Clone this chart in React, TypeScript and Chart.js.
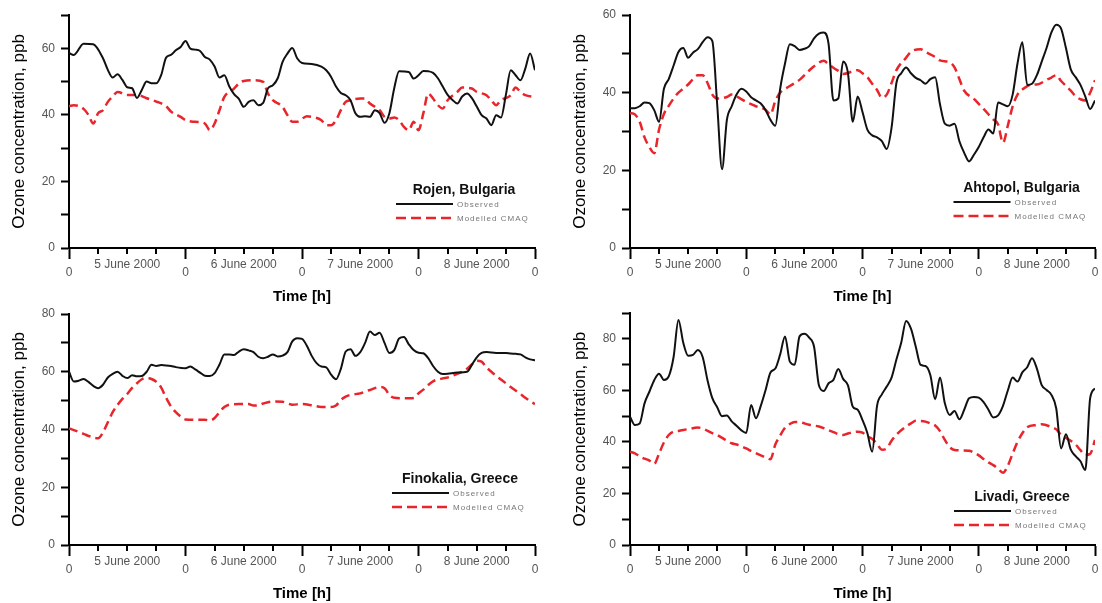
import React, { useEffect, useRef } from 'react';
import { Chart, registerables } from 'chart.js';

Chart.register(...registerables);
Chart.defaults.font.family = "'Liberation Sans', Arial, sans-serif";

// ---------- data ----------
const DAY_LABELS = ['5 June 2000', '6 June 2000', '7 June 2000', '8 June 2000'];
const SERIES_NAMES = ['Observed', 'Modelled CMAQ'];
const STATIONS = ['Rojen, Bulgaria', 'Ahtopol, Bulgaria', 'Finokalia, Greece', 'Livadi, Greece'];
const Y_MAX = [70, 60, 80, 90];

// [hour, ppb]
const rojenObserved: [number, number][] = [
  [0,58.6],[1,58],[3,61.4],[5,61.2],[7,57],[8,53.5],[9,51.2],[10,52.2],[11,50.5],[12,48.3],[13,48],[14,45.1],[15,47.5],[16,50],[17,49.5],[18,49.5],[19,52],[20,57.2],[21,58],[22,59.4],[23,60.4],[24,62.2],[25,59.9],[26,59.6],[27,59.2],[28,57.4],[29,56.6],[30,54.5],[31,51.2],[32,51.9],[33,48.6],[34,46.2],[35,44.8],[36,42.4],[37,43.9],[38,44.4],[39,42.9],[40,43.6],[41,48],[42,48.9],[43,51],[44,55.9],[45,58.4],[46,60.1],[47,57],[48,55.6],[50,55.3],[52,54.5],[53,53.4],[54,51.4],[55,48.5],[56,46.6],[57,45.9],[58,44.4],[59,40.5],[60,39.4],[61,39.6],[62,39.4],[63,41.4],[64,40.5],[65,37.6],[66,40.5],[67,48],[68,53.1],[70,52.9],[71,50.9],[72,51.9],[73,53.2],[74,53.1],[75,52.6],[76,51],[77,48.5],[78,46],[79,44.5],[80,43.4],[81,45.5],[82,46.4],[83,45],[84,42.5],[85,39.9],[86,38.9],[87,36.9],[88,39.9],[89,39.2],[90,46],[91,53.4],[92,51.9],[93,50.4],[94,53.9],[95,58.4],[96,53.4],
];
const rojenModelled: [number, number][] = [
  [0,42.6],[1,42.9],[3,41.8],[4,40],[5,37.4],[6,40.5],[7,41.4],[8,43.9],[9,45.5],[10,46.9],[12,46],[14,46],[16,45],[18,44],[20,42.6],[21,41],[23,39.4],[24,38.4],[26,37.9],[28,37.4],[29,35.4],[30,37.4],[31,41.4],[32,45.4],[34,47.9],[35,49.4],[36,50.2],[38,50.4],[40,49.9],[41,46.4],[42,44.4],[44,42.4],[45,39.9],[46,37.9],[47,37.9],[49,39.6],[50,39.4],[52,38.4],[53,36.9],[54,36.9],[55,38.4],[56,41.4],[57,43.9],[58,44.4],[60,44.9],[61,44.9],[62,43.4],[64,41.4],[65,39.4],[66,38.9],[67,39.2],[68,38.4],[69,36.4],[70,35.4],[71,37.9],[72,35.4],[73,40.5],[74,46.4],[75,44.9],[76,42.9],[77,41.9],[78,44.4],[80,46.9],[81,48.2],[83,47.9],[84,46.9],[86,45.9],[87,44.4],[88,42.9],[89,44.4],[91,45.9],[92,48.2],[93,46.9],[94,45.9],[96,45.4],
];

const ahtopolObserved: [number, number][] = [
  [0,36],[1,36],[2,36.5],[3,37.5],[4,37.3],[5,35.5],[6,32.5],[7,41],[8,43.5],[9,47],[10,50.5],[11,51.5],[12,49],[13,50.3],[14,51.2],[15,53],[16,54.3],[17,53.3],[18,37],[19,20.3],[20,33],[21,36.5],[22,39.5],[23,41],[24,40.3],[25,38.8],[26,38],[27,37.2],[28,35.5],[29,33],[30,31.5],[31,41],[32,47.5],[33,52.5],[34,52],[35,51],[36,51.3],[37,52],[38,54],[39,55.2],[40,55.5],[41,52.5],[42,38],[43,38.5],[44,48],[45,45],[46,32.5],[47,39],[48,35],[49,30.5],[50,29],[51,28.5],[52,27.5],[53,25.5],[54,31],[55,42.5],[56,45],[57,46.5],[58,45],[59,43.8],[60,43.2],[61,42.3],[62,43.5],[63,44],[64,37],[65,32],[66,31.5],[67,32],[68,27.5],[69,24.5],[70,22.3],[71,24],[72,26],[73,28.5],[74,30.5],[75,29.5],[76,37.5],[77,37],[78,36.5],[79,39.5],[80,47.5],[81,53],[82,42],[83,42.3],[84,44.5],[85,48],[86,51.5],[87,55.5],[88,57.5],[89,56.5],[90,51.5],[91,46],[92,44],[93,42],[94,39],[95,35.8],[96,38],
];
const ahtopolModelled: [number, number][] = [
  [0,34.8],[1,34.4],[2,32.5],[3,28.5],[4,26],[5,24.4],[6,30.5],[7,34.5],[8,36.6],[9,38.5],[10,40],[12,42.1],[13,43.5],[14,44.5],[15,44.5],[16,42.5],[17,39.5],[18,38.5],[20,38.9],[21,39.5],[22,39],[24,37.6],[26,36.5],[28,35.6],[29,34.4],[30,37.9],[31,40],[33,41.7],[35,43.3],[37,45.7],[38,46.8],[40,48.2],[41,47.3],[42,46.4],[43,45.6],[44,44.8],[46,45.5],[47,45.8],[48,45],[49,44],[50,42.3],[51,40.7],[52,38.7],[53,39.5],[54,42.5],[55,45.8],[57,49],[58,50.5],[60,51.2],[61,50.5],[63,49.2],[64,48.3],[66,47.8],[67,46.5],[68,43.5],[69,40.5],[71,38.4],[72,37.1],[73,35.8],[75,33.1],[76,31.8],[77,27.1],[78,31.5],[79,36.5],[80,39.5],[81,40.8],[83,42.1],[84,42.1],[86,43.3],[87,43.9],[88,44.5],[89,43],[91,40.5],[92,39.1],[93,38.3],[94,38],[95,40],[96,43.2],
];

const finokaliaObserved: [number, number][] = [
  [0,60],[1,56.6],[2,56.9],[3,57.5],[4,56.5],[5,55.1],[6,54.3],[7,55.5],[8,58],[9,59.3],[10,60],[11,58.6],[12,57.8],[13,58.8],[14,58.4],[15,58.5],[16,60],[17,62.4],[18,62],[19,62.3],[20,62.2],[21,62],[22,61.6],[24,61.2],[25,61.8],[26,60.8],[27,59.7],[28,58.6],[29,58.5],[30,59.5],[31,62.5],[32,66],[33,66],[34,65.8],[35,67],[36,67.8],[37,67.4],[38,66.8],[39,65.2],[40,64.7],[41,65.2],[42,66],[43,65.3],[44,65.6],[45,66.8],[46,70.5],[47,71.6],[48,71.4],[49,69],[50,65.5],[51,63],[52,61.8],[53,61.5],[54,59],[55,57.4],[56,61],[57,67],[58,67.8],[59,65.5],[60,66.8],[61,70],[62,73.9],[63,72.7],[64,73.5],[65,70],[66,66.5],[67,67.5],[68,71.5],[69,72],[70,69.5],[71,67.5],[72,66.6],[73,66.4],[74,64.7],[75,62],[76,60],[77,59.2],[78,59.3],[80,59.7],[82,60],[83,62.4],[84,65],[85,66.5],[86,66.8],[88,66.5],[90,66.5],[91,66.3],[92,66.2],[93,66],[94,65],[95,64.3],[96,64],
];
const finokaliaModelled: [number, number][] = [
  [0,40.4],[1,39.8],[3,38.5],[4,37.8],[5,37.2],[6,37],[7,39],[8,42.5],[9,46],[10,48.5],[11,50.6],[12,52.3],[13,54.4],[14,56],[15,57.4],[16,57.8],[17,57.5],[18,56.5],[19,54.5],[20,51],[21,48],[22,46],[23,44.5],[24,43.5],[26,43.4],[28,43.4],[29,43.1],[30,44],[31,46],[32,47.8],[33,48.6],[35,48.8],[37,48.8],[38,48.3],[39,48.4],[40,49],[42,49.7],[44,49.6],[45,49.1],[46,48.6],[48,48.8],[50,48.4],[52,47.8],[54,47.8],[55,48.3],[56,50.2],[57,51.4],[58,52],[60,52.5],[61,53.1],[62,53.7],[64,54.7],[65,54.3],[66,52],[67,51],[70,50.8],[71,50.9],[72,52.5],[73,53.8],[74,55.4],[75,56.7],[77,57.7],[78,58],[80,59.3],[81,60],[82,61],[83,62.6],[84,63.8],[85,63.5],[86,61.5],[87,60],[88,58.6],[90,56],[91,54.7],[93,52.3],[94,51],[96,48.8],
];

const livadiObserved: [number, number][] = [
  [0,49.8],[1,46.6],[2,47.2],[3,55],[4,59.5],[5,64],[6,66.5],[7,64.1],[8,65.5],[9,73],[10,87.4],[11,78.5],[12,73.5],[13,73.8],[14,75.7],[15,73],[16,64],[17,57],[18,53.5],[19,50],[20,50.3],[21,48],[22,46.3],[23,44.5],[24,43.5],[25,54.4],[26,49.2],[27,54],[28,60.2],[29,67],[30,68.5],[31,74],[32,81],[33,71.2],[34,70],[35,81],[36,82],[37,80.5],[38,77],[39,62],[40,59.8],[41,62.8],[42,64.1],[43,68.3],[44,64.5],[45,62],[46,53.7],[47,52.5],[48,48.5],[49,43.5],[50,36.2],[51,54],[52,58.5],[53,61.5],[54,65],[55,72],[56,78.6],[57,87],[58,84],[59,77],[60,69.9],[61,69.5],[62,66],[63,56.6],[64,65],[65,55],[66,50.5],[67,52],[68,48.8],[69,52.5],[70,57],[71,57.5],[72,57.2],[73,55.5],[74,52.5],[75,49.5],[76,50.3],[77,54],[78,60],[79,65],[80,63.5],[81,67],[82,69],[83,72.5],[84,68.5],[85,62.1],[86,60.2],[87,58.3],[88,53],[89,37.5],[90,43],[91,37],[92,34.5],[93,32.5],[94,29.1],[95,57],[96,60.8],
];
const livadiModelled: [number, number][] = [
  [0,36.2],[1,35.6],[2,34.4],[3,33.5],[4,32.8],[5,31.5],[6,35.5],[7,39.8],[8,42.7],[9,44],[10,44.3],[12,45],[14,45.6],[15,45.2],[17,43.4],[18,42.7],[20,40.5],[21,39.5],[22,39],[24,37.5],[25,36.5],[27,34.8],[28,34],[29,33.3],[30,39],[31,42.5],[32,45.5],[33,47],[34,47.8],[35,47.7],[37,46.7],[39,46],[40,45.4],[42,43.8],[44,42.7],[45,43.3],[47,44],[48,43.6],[49,42.2],[50,41.2],[51,39.2],[52,37],[53,37.5],[54,40.5],[55,42.8],[57,46],[58,47.2],[59,48.2],[61,47.9],[62,47.2],[63,46.4],[64,44.2],[65,40.8],[66,38],[67,36.9],[70,36.6],[71,35.9],[72,34.8],[73,33.4],[74,32.1],[75,31],[76,29.6],[77,28.1],[78,30.8],[79,35.5],[80,40],[81,43.4],[82,45.7],[84,46.6],[85,46.9],[87,45.8],[88,44.9],[89,42.8],[90,41.6],[92,39],[93,36.8],[94,35],[95,35.4],[96,40.8],
];

const OBSERVED = [rojenObserved, ahtopolObserved, finokaliaObserved, livadiObserved];
const MODELLED = [rojenModelled, ahtopolModelled, finokaliaModelled, livadiModelled];

// ---------- layout / style ----------
const HOURS_MAX = 96;
const RED = '#e8252b';
const PANELS = [
  { left: 0, top: 0, w: 551, h: 307, padTop: 15, padRight: 16, yW: 69, xH: 59, yTitlePad: 9.2, xTitlePad: 1, legend: { dx: -71, dy: -58 } },
  { left: 551, top: 0, w: 551, h: 307, padTop: 15, padRight: 7, yW: 79, xH: 59, yTitlePad: 18.8, xTitlePad: 1, legend: { dx: -73.5, dy: -60 } },
  { left: 0, top: 300, w: 551, h: 303, padTop: 14, padRight: 16, yW: 69, xH: 58, yTitlePad: 9.2, xTitlePad: 0.5, legend: { dx: -75, dy: -66 } },
  { left: 551, top: 300, w: 551, h: 303, padTop: 13, padRight: 7, yW: 79, xH: 58, yTitlePad: 18.8, xTitlePad: 0.5, legend: { dx: -73, dy: -48 } },
];

const decorPlugin = {
  id: 'decor',
  afterDraw(chart: any, _args: any, opts: any) {
    const { ctx, chartArea, scales } = chart;
    const xs = scales.x;
    ctx.save();
    // minor 6-hour tick marks
    ctx.strokeStyle = '#000';
    ctx.lineWidth = 2;
    xs.ticks.forEach((t: any) => {
      if (t.value % 24 === 0) return;
      const px = Math.round(xs.getPixelForValue(t.value));
      ctx.beginPath();
      ctx.moveTo(px, chartArea.bottom);
      ctx.lineTo(px, chartArea.bottom + 6);
      ctx.stroke();
    });
    // in-plot legend
    const cx = chartArea.right + opts.dx;
    const ty = chartArea.bottom + opts.dy;
    ctx.fillStyle = '#111';
    ctx.font = "bold 14px 'Liberation Sans', Arial, sans-serif";
    ctx.textAlign = 'center';
    ctx.textBaseline = 'middle';
    ctx.fillText(opts.station, cx, ty);
    const datasets = chart.data.datasets;
    datasets.forEach((ds: any, i: number) => {
      const ly = ty + 14 + i * 14;
      ctx.beginPath();
      ctx.strokeStyle = ds.borderColor;
      ctx.lineWidth = i === 0 ? 2 : 2.5;
      ctx.setLineDash(i === 0 ? [] : [10, 5]);
      ctx.moveTo(cx - 68, ly);
      ctx.lineTo(cx - 11, ly);
      ctx.stroke();
      ctx.setLineDash([]);
      ctx.fillStyle = '#777';
      ctx.font = "8px 'Liberation Sans', Arial, sans-serif";
      (ctx as any).letterSpacing = '1px';
      ctx.textAlign = 'left';
      ctx.fillText(ds.label, cx - 7, ly + 0.5);
      (ctx as any).letterSpacing = '0px';
    });
    ctx.restore();
  },
};

function Panel({ index }: { index: number }) {
  const ref = useRef<HTMLCanvasElement>(null);
  const p = PANELS[index];
  useEffect(() => {
    if (!ref.current) return;
    const chart = new Chart(ref.current, {
      type: 'line',
      data: {
        datasets: [
          {
            label: SERIES_NAMES[0],
            data: OBSERVED[index].map(([x, y]) => ({ x, y })),
            borderColor: '#111',
            borderWidth: 2,
            pointRadius: 0,
            cubicInterpolationMode: 'monotone',
          },
          {
            label: SERIES_NAMES[1],
            data: MODELLED[index].map(([x, y]) => ({ x, y })),
            borderColor: RED,
            borderWidth: 2.5,
            borderDash: [9, 5],
            pointRadius: 0,
            cubicInterpolationMode: 'monotone',
          },
        ],
      },
      options: {
        responsive: false,
        animation: false,
        events: [],
        layout: { autoPadding: false, padding: { top: p.padTop, right: p.padRight, bottom: 0, left: 0 } },
        plugins: {
          legend: { display: false },
          tooltip: { enabled: false },
          decor: { station: STATIONS[index], dx: p.legend.dx, dy: p.legend.dy },
        } as any,
        scales: {
          x: {
            type: 'linear',
            min: 0,
            max: HOURS_MAX,
            ticks: {
              stepSize: 6,
              autoSkip: false,
              maxRotation: 0,
              color: '#555',
              padding: 2,
              font: { size: 12, lineHeight: 0.667 },
              callback: (v: any) => {
                const n = Number(v);
                if (n % 24 === 0) return ['', '0'];
                if (n % 24 === 12) return DAY_LABELS[Math.floor(n / 24)];
                return '';
              },
            },
            grid: {
              drawOnChartArea: false,
              tickLength: 11,
              tickWidth: 2,
              tickColor: (c: any) => (c.tick && c.tick.value % 24 === 0 ? '#000' : 'rgba(0,0,0,0)'),
            },
            border: { color: '#000', width: 2 },
            title: {
              display: true,
              text: 'Time [h]',
              color: '#000',
              font: { size: 15, weight: 'bold' },
              padding: { top: 0, bottom: p.xTitlePad },
            },
            afterFit: (s: any) => { s.height = p.xH; },
          },
          y: {
            min: 0,
            max: Y_MAX[index],
            ticks: {
              stepSize: 10,
              color: '#555',
              padding: 6,
              font: { size: 12 },
              callback: (v: any) => (Number(v) % 20 === 0 ? String(v) : ''),
            },
            grid: { drawOnChartArea: false, tickLength: 8, tickWidth: 2, tickColor: '#000' },
            border: { color: '#000', width: 2 },
            title: {
              display: true,
              text: 'Ozone concentration, ppb',
              color: '#000',
              font: { size: 17 },
              padding: { top: p.yTitlePad, bottom: 0 },
            },
            afterFit: (s: any) => { s.width = p.yW; },
          },
        },
      } as any,
      plugins: [decorPlugin],
    });
    return () => chart.destroy();
  }, [index]);
  return (
    <canvas
      ref={ref}
      width={p.w}
      height={p.h}
      style={{ position: 'absolute', left: p.left, top: p.top, width: p.w, height: p.h }}
    />
  );
}

export default function App() {
  return (
    <div style={{ position: 'fixed', left: 0, top: 0, width: 1102, height: 603, background: '#fff', overflow: 'hidden' }}>
      {[0, 1, 2, 3].map((i) => (
        <Panel key={i} index={i} />
      ))}
    </div>
  );
}
